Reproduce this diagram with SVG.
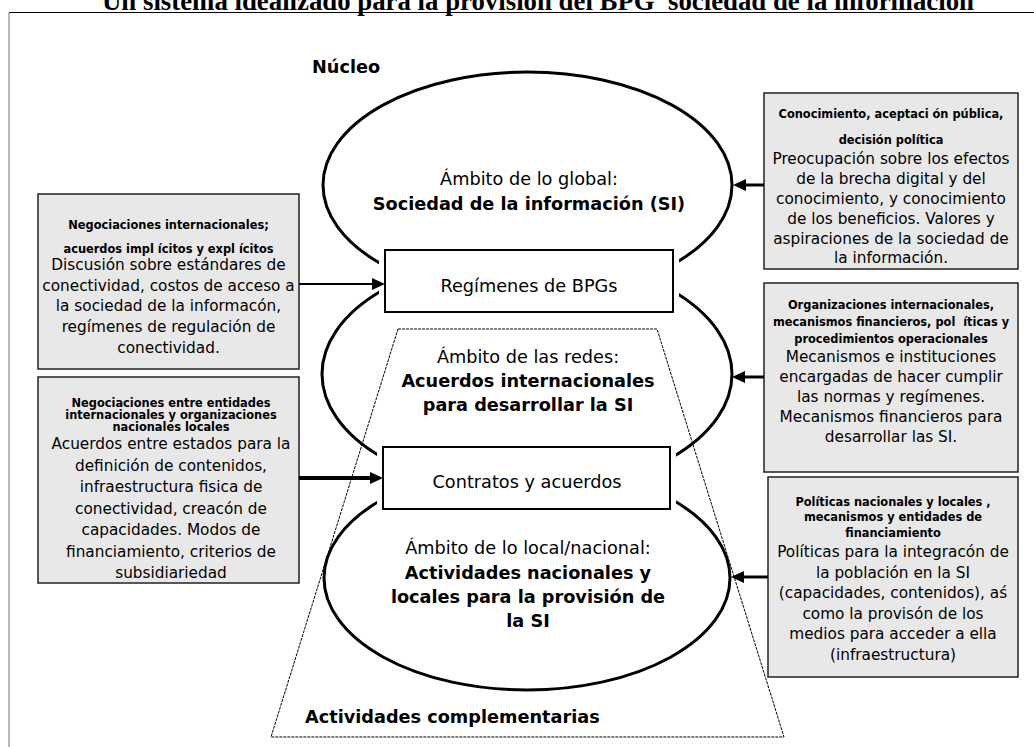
<svg xmlns="http://www.w3.org/2000/svg" width="1034" height="747" viewBox="0 0 1034 747">
<style>
.t{font-family:"DejaVu Sans","Liberation Sans",sans-serif;fill:#000;text-anchor:middle;white-space:pre}
.c{font-size:17.7px}
.cb{font-size:17.7px;font-weight:bold}
.b{font-size:15.3px}
.h{font-size:11.4px;font-weight:bold}
.box{fill:#e8e8e8;stroke:#222;stroke-width:1.5}
.ell{fill:none;stroke:#000;stroke-width:3}
.rb{fill:#fff;stroke:#000;stroke-width:2}
.mask{fill:#fff;stroke:none}
.arr{stroke:#000;fill:none}
</style>
<defs>
<marker id="ah" markerUnits="userSpaceOnUse" markerWidth="14" markerHeight="12" refX="0" refY="6" orient="auto">
<path d="M0,0 L13,6 L0,12 z" fill="#000"/>
</marker>
</defs>
<rect width="1034" height="747" fill="#fff"/>
<text x="102" y="10" font-family="Liberation Serif,serif" font-weight="bold" font-size="26.8px" style="white-space:pre">Un sistema idealizado para la provisión del BPG  sociedad de la información</text>
<line x1="9" y1="12.5" x2="1034" y2="12.5" stroke="#000" stroke-width="1.2"/>
<line x1="9" y1="12.5" x2="9" y2="747" stroke="#888" stroke-width="1.2"/>

<g id="ellipses">
<ellipse id="global" class="ell" cx="527.5" cy="185" rx="204.5" ry="113"/>
<ellipse id="redes" class="ell" cx="527" cy="374" rx="205" ry="118"/>
<ellipse id="local" class="ell" cx="527" cy="578" rx="203" ry="112"/>
</g>
<g id="complementarias">
<path d="M398,329 L657,329 L784,737 L271,737 Z" fill="none" stroke="#000" stroke-width="1" stroke-dasharray="3 1"/>
<text class="t cb" x="305" y="723" style="text-anchor:start">Actividades complementarias</text>
</g>
<text class="t cb" x="312" y="73" style="text-anchor:start">Núcleo</text>

<g id="regimenes">
<rect class="mask" x="379" y="248" width="300" height="66"/>
<rect class="rb" x="385" y="250" width="288" height="62"/>
<text class="t c" x="529" y="292">Regímenes de BPGs</text>
</g>
<g id="contratos">
<rect class="mask" x="377" y="445" width="299" height="66"/>
<rect class="rb" x="383" y="447" width="287" height="62"/>
<text class="t c" x="527" y="488">Contratos y acuerdos</text>
</g>

<g id="global-text">
<text class="t c" x="529" y="185">Ámbito de lo global:</text>
<text class="t cb" x="529" y="210">Sociedad de la información (SI)</text>
</g>
<g id="redes-text">
<text class="t c" x="528" y="363">Ámbito de las redes:</text>
<text class="t cb" x="528" y="387">Acuerdos internacionales</text>
<text class="t cb" x="528" y="411">para desarrollar la SI</text>
</g>
<g id="local-text">
<text class="t c" x="528" y="554">Ámbito de lo local/nacional:</text>
<text class="t cb" x="528" y="579">Actividades nacionales y</text>
<text class="t cb" x="528" y="603">locales para la provisión de</text>
<text class="t cb" x="528" y="627">la SI</text>
</g>

<g id="negociaciones-internacionales">
<rect class="box" x="38" y="194" width="261" height="175"/>
<text class="t h" x="168.5" y="229">Negociaciones internacionales;</text>
<text class="t h" x="168.5" y="253">acuerdos impl ícitos y expl ícitos</text>
<text class="t b" x="168.5" y="270">Discusión sobre estándares de</text>
<text class="t b" x="168.5" y="291">conectividad, costos de acceso a</text>
<text class="t b" x="168.5" y="311">la sociedad de la informacón,</text>
<text class="t b" x="168.5" y="332">regímenes de regulación de</text>
<text class="t b" x="168.5" y="353">conectividad.</text>
</g>
<g id="negociaciones-entidades">
<rect class="box" x="38" y="377" width="261" height="206"/>
<text class="t h" x="171" y="407">Negociaciones entre entidades</text>
<text class="t h" x="171" y="419">internacionales y organizaciones</text>
<text class="t h" x="171" y="431">nacionales locales</text>
<text class="t b" x="171" y="449">Acuerdos entre estados para la</text>
<text class="t b" x="171" y="470.5">definición de contenidos,</text>
<text class="t b" x="171" y="492">infraestructura fisica de</text>
<text class="t b" x="171" y="513.5">conectividad, creacón de</text>
<text class="t b" x="171" y="535">capacidades. Modos de</text>
<text class="t b" x="171" y="556.5">financiamiento, criterios de</text>
<text class="t b" x="171" y="578">subsidiariedad</text>
</g>
<g id="conocimiento">
<rect class="box" x="764" y="93" width="254" height="176"/>
<text class="t h" x="891" y="118">Conocimiento, aceptaci ón pública,</text>
<text class="t h" x="891" y="144">decisión política</text>
<text class="t b" x="891" y="164">Preocupación sobre los efectos</text>
<text class="t b" x="891" y="184">de la brecha digital y del</text>
<text class="t b" x="891" y="204">conocimiento, y conocimiento</text>
<text class="t b" x="891" y="224">de los beneficios. Valores y</text>
<text class="t b" x="891" y="243.5">aspiraciones de la sociedad de</text>
<text class="t b" x="891" y="263">la información.</text>
</g>
<g id="organizaciones">
<rect class="box" x="764" y="283" width="254" height="189"/>
<text class="t h" x="891" y="309">Organizaciones internacionales,</text>
<text class="t h" x="891" y="326">mecanismos financieros, pol  íticas y</text>
<text class="t h" x="891" y="343">procedimientos operacionales</text>
<text class="t b" x="891" y="362">Mecanismos e instituciones</text>
<text class="t b" x="891" y="382">encargadas de hacer cumplir</text>
<text class="t b" x="891" y="402">las normas y regímenes.</text>
<text class="t b" x="891" y="422">Mecanismos financieros para</text>
<text class="t b" x="891" y="442">desarrollar las SI.</text>
</g>
<g id="politicas">
<rect class="box" x="768" y="477" width="250" height="200"/>
<text class="t h" x="893" y="506">Políticas nacionales y locales ,</text>
<text class="t h" x="893" y="521">mecanismos y entidades de</text>
<text class="t h" x="893" y="537">financiamiento</text>
<text class="t b" x="893" y="557">Políticas para la integracón de</text>
<text class="t b" x="893" y="577.5">la población en la SI</text>
<text class="t b" x="893" y="598">(capacidades, contenidos), aś</text>
<text class="t b" x="893" y="618.5">como la provisón de los</text>
<text class="t b" x="893" y="639">medios para acceder a ella</text>
<text class="t b" x="893" y="659.5">(infraestructura)</text>
</g>

<g id="connectors">
<line class="arr" x1="299" y1="284" x2="372" y2="284" stroke-width="2" marker-end="url(#ah)"/>
<line class="arr" x1="299" y1="478" x2="370" y2="478" stroke-width="4" marker-end="url(#ah)"/>
<line class="arr" x1="764" y1="185" x2="746" y2="185" stroke-width="3" marker-end="url(#ah)"/>
<line class="arr" x1="764" y1="377" x2="745" y2="377" stroke-width="3" marker-end="url(#ah)"/>
<line class="arr" x1="768" y1="577" x2="744" y2="577" stroke-width="3" marker-end="url(#ah)"/>
</g>
</svg>
